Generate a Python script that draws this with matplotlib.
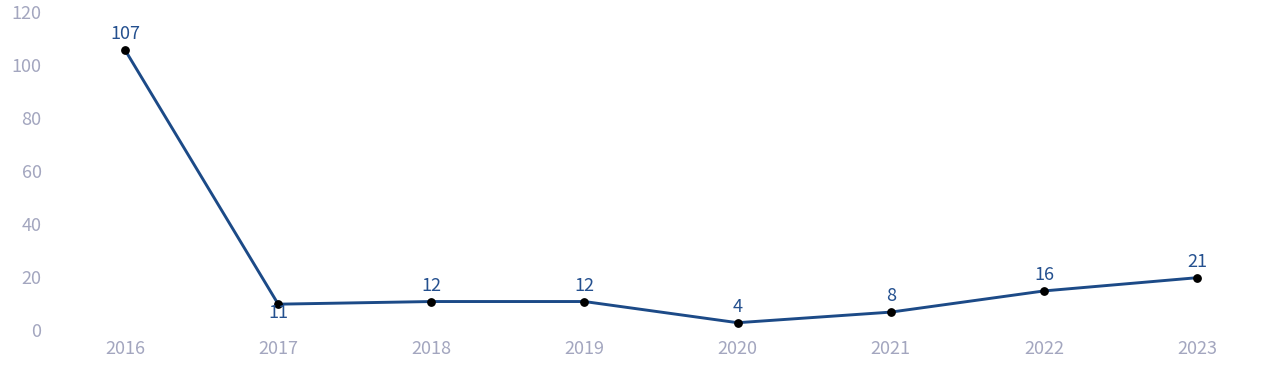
import matplotlib
matplotlib.use("Agg")
import matplotlib.pyplot as plt
import matplotlib.transforms as mtransforms

years = ["2016", "2017", "2018", "2019", "2020", "2021", "2022", "2023"]
values = [107, 11, 12, 12, 4, 8, 16, 21]
y_ticks = [0, 20, 40, 60, 80, 100, 120]

plt.rcParams['font.family'] = ['Noto Sans CJK SC', 'DejaVu Sans']

W, H = 1280, 382
fig = plt.figure(figsize=(W / 100, H / 100), dpi=100)
left, right = 48.5, 1273.6
bottom_px, top_px = 333.3, 15.6
ax = fig.add_axes([left / W, (H - bottom_px) / H, (right - left) / W, (bottom_px - top_px) / H])

x = list(range(len(years)))
line_color = "#1c4a87"
ax.plot(x, values, color=line_color, linewidth=2.1, zorder=2, solid_capstyle="round")
ax.scatter(x, values, s=28, color="black", zorder=3)

for i, v in enumerate(values):
    if i == 1:
        ax.annotate(str(v), (i, v), xytext=(0, 0), textcoords="offset points",
                    ha="center", va="top", fontsize=13, color="#24508f")
    else:
        ax.annotate(str(v), (i, v), xytext=(0, 5), textcoords="offset points",
                    ha="center", va="bottom", fontsize=13, color="#24508f")

ax.set_xlim(-0.5, len(years) - 0.5)
ax.set_ylim(0, 120)
ax.set_xticks(x)
ax.set_xticklabels(years)
ax.set_yticks(y_ticks)
ax.set_yticklabels([str(t) for t in y_ticks])
ax.tick_params(axis="both", length=0, labelsize=13, colors="#a3a6bf")
ax.tick_params(axis="x", pad=5)
ax.tick_params(axis="y", pad=5)
for s in ax.spines.values():
    s.set_visible(False)

off = mtransforms.ScaledTranslation(0, 3.5 / 100, fig.dpi_scale_trans)
for lbl in ax.get_yticklabels():
    lbl.set_transform(lbl.get_transform() + off)

fig.savefig("out.png", dpi=100)
